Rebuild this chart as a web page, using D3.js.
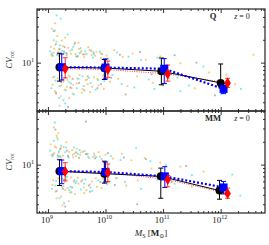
<!DOCTYPE html>
<html>
<head>
<meta charset="utf-8">
<script src="https://cdn.jsdelivr.net/npm/d3@7"></script>
<style>
body { margin: 0; background: #fff; }
svg { display: block; }
text { font-family: "Liberation Serif", "DejaVu Serif", serif; fill: #222; }
</style>
</head>
<body>
<div id="chart"></div>
<script>
// ---------- data (mass as log10 Msun, CV values) ----------
const panelNames = ["Q", "MM"];
const xMajorExp = [9, 10, 11, 12];
const yMajor = [10];

// top panel: Q
const qBlackM = [9.2, 9.98, 10.97, 12.0];
const qBlackCV = [8.7, 8.5, 7.7, 5.4];
const qBlackLo = [5.7, 6.0, 5.1, 4.8];
const qBlackHi = [13.3, 11.0, 11.5, 9.6];
const qBlueM = [9.24, 10.0, 11.02, 12.05];
const qBlueCV = [8.7, 8.6, 8.3, 4.5];
const qBlueLo = [5.9, 6.1, 5.3, 3.9];
const qBlueHi = [13.0, 11.2, 11.3, 5.3];
const qRedM = [9.3, 10.04, 11.08, 12.12];
const qRedCV = [8.3, 8.1, 7.1, 5.4];
const qRedLo = [6.3, 6.4, 5.7, 4.7];
const qRedHi = [11.6, 10.5, 9.3, 6.2];

const qOrange = [[9.05,16.2],[9.08,5.1],[9.1,13.5],[9.12,4.2],[9.15,18.9],[9.17,6.2],[9.2,14.8],[9.22,3.6],[9.25,12.9],[9.27,5.6],[9.3,21.5],[9.33,4.8],[9.35,15.7],[9.38,6.5],[9.4,13.1],[9.43,3.9],[9.46,17.4],[9.5,5.3],[9.52,12.2],[9.55,6.9],[9.58,14.3],[9.6,4.5],[9.63,11.8],[9.66,5.9],[9.7,16.0],[9.73,4.1],[9.76,12.6],[9.8,6.4],[9.84,13.9],[9.88,5.0],[9.92,11.5],[9.96,6.8],[10.02,12.4],[10.08,5.6],[10.15,14.6],[10.22,6.1],[10.3,11.9],[10.38,4.9],[10.47,13.2],[10.55,6.6],[10.7,10.9],[10.82,5.4],[10.95,12.1],[11.1,6.2],[11.3,9.8],[11.55,4.6],[11.8,7.4],[12.1,6.9],[12.25,5.2],[9.07,28],[9.2,2.7],[9.12,33],[12.57,12.7],[9.13,17.1],[9.28,14.1],[9.41,4.6],[9.57,13.6],[9.69,5.2],[9.19,12.2],[9.34,5.9],
  [9.06,12.7],[9.09,6.4],[9.11,15.3],[9.14,3.9],[9.18,13.9],[9.23,5.0],[9.26,16.6],[9.29,4.4],[9.32,12.4],[9.36,6.8],[9.39,14.4],[9.44,5.1],[9.48,13.0],[9.51,6.2],[9.54,15.2],[9.59,4.0],[9.64,12.9],[9.68,6.0],[9.72,14.7],[9.77,4.8],[9.82,12.3],[9.86,6.1],[9.91,13.3],[9.97,4.5],[9.16,22.4],[9.24,19.6],[9.37,3.4],[9.53,18.3]];
const qCyan = [[9.04,14.1],[9.06,4.6],[9.1,19.8],[9.13,5.8],[9.16,12.6],[9.19,3.4],[9.21,16.9],[9.24,6.7],[9.28,13.7],[9.31,4.3],[9.34,23.5],[9.37,5.5],[9.42,14.9],[9.45,3.8],[9.49,12.1],[9.53,6.1],[9.57,15.5],[9.62,4.9],[9.67,13.0],[9.71,6.3],[9.78,11.7],[9.83,4.4],[9.9,14.0],[9.98,5.7],[10.05,11.3],[10.12,6.9],[10.2,13.6],[10.28,5.2],[10.4,12.0],[10.5,4.7],[10.62,10.8],[10.75,6.0],[10.9,11.6],[11.05,5.3],[11.25,6.4],[11.45,5.0],[11.7,8.9],[12.0,3.9],[12.35,4.5],[9.15,42],[9.22,38],[9.3,2.9],[11.3,4.2],[10.85,4.5],
  [9.07,13.2],[9.11,6.5],[9.14,17.6],[9.2,4.9],[9.25,14.3],[9.3,6.2],[9.33,12.8],[9.4,5.3],[9.44,16.1],[9.5,4.6],[9.55,13.3],[9.6,6.6],[9.65,14.1],[9.74,5.4],[9.8,12.9],[9.87,5.9],[9.12,26.5],[9.27,3.2]];
const qGray = [[9.08,12.3],[9.14,4.0],[9.2,15.1],[9.26,6.0],[9.32,13.4],[9.39,4.7],[9.47,18.2],[9.54,5.4],[9.61,12.8],[9.69,6.6],[9.75,14.4],[9.86,4.6],[9.94,13.0],[10.1,6.3],[10.25,12.7],[10.35,3.8],[10.6,13.8],[10.8,7.0],[11.0,5.0],[11.2,12.5],[11.58,10.0],[11.9,3.7],[9.1,26],[9.35,2.6],
  [9.17,13.0],[9.23,5.5],[9.29,16.0],[9.43,6.1],[9.51,12.0],[9.63,4.3],[9.79,13.6],[9.92,5.2]];

// bottom panel: MM
const mBlackM = [9.2, 9.98, 10.96, 11.98];
const mBlackCV = [8.2, 7.6, 7.0, 4.55];
const mBlackLo = [5.3, 5.7, 3.6, 3.5];
const mBlackHi = [11.6, 11.1, 9.0, 6.2];
const mBlueM = [9.24, 10.0, 11.03, 12.05];
const mBlueCV = [8.2, 8.0, 7.0, 5.0];
const mBlueLo = [5.6, 5.9, 5.0, 4.1];
const mBlueHi = [11.5, 10.8, 9.4, 6.0];
const mRedM = [9.3, 10.04, 11.08, 12.12];
const mRedCV = [8.1, 7.85, 6.35, 4.16];
const mRedLo = [6.1, 6.0, 5.1, 3.6];
const mRedHi = [10.6, 10.2, 7.2, 4.9];

const mOrange = [[9.05,18.5],[9.08,5.4],[9.11,14.2],[9.13,4.4],[9.16,22.8],[9.18,6.6],[9.21,15.9],[9.23,3.8],[9.26,13.1],[9.29,5.9],[9.32,19.7],[9.34,4.9],[9.37,14.7],[9.4,6.8],[9.44,12.5],[9.47,4.1],[9.5,16.3],[9.53,5.6],[9.56,13.4],[9.6,6.3],[9.64,15.1],[9.67,4.6],[9.72,12.2],[9.76,6.0],[9.8,14.0],[9.85,5.1],[9.9,12.8],[9.95,6.5],[10.0,13.5],[10.06,5.8],[10.13,12.0],[10.2,6.7],[10.28,13.9],[10.36,5.3],[10.45,11.4],[10.56,6.2],[10.68,12.3],[10.8,8.9],[10.95,10.6],[11.1,6.4],[11.3,9.4],[11.5,5.1],[11.7,8.1],[9.1,31],[9.25,2.9],[9.18,26],[9.14,16.8],[9.3,4.6],[9.46,14.0],[9.62,5.0],[9.22,12.6],
  [9.06,13.4],[9.09,6.2],[9.12,17.3],[9.15,3.6],[9.19,14.4],[9.24,5.1],[9.27,17.1],[9.31,6.4],[9.35,13.2],[9.38,4.3],[9.42,15.5],[9.45,5.9],[9.49,12.9],[9.52,6.7],[9.57,14.5],[9.63,4.2],[9.68,13.7],[9.73,5.5],[9.78,12.6],[9.83,6.6],[9.88,14.6],[9.93,4.9],[9.15,24.1],[9.36,3.3]];
const mCyan = [[9.04,15.3],[9.07,4.8],[9.1,20.6],[9.14,6.1],[9.17,13.3],[9.2,3.6],[9.23,17.8],[9.27,5.2],[9.3,14.6],[9.33,6.9],[9.36,12.4],[9.41,4.3],[9.45,16.8],[9.48,5.7],[9.52,13.9],[9.57,4.7],[9.61,14.8],[9.65,6.4],[9.7,12.7],[9.74,5.0],[9.81,13.2],[9.87,6.2],[9.93,11.9],[10.03,5.5],[10.1,12.9],[10.18,6.6],[10.26,11.5],[10.34,5.9],[10.53,16.7],[10.62,4.8],[10.78,11.1],[10.9,6.3],[11.05,9.9],[11.2,5.6],[11.5,7.3],[12.2,7.4],[12.34,3.9],[9.12,36],[9.28,3.1],[9.19,15.0],[9.39,5.1],
  [9.08,12.9],[9.13,5.3],[9.21,13.0],[9.25,6.5],[9.31,16.9],[9.37,4.6],[9.43,13.5],[9.5,6.0],[9.55,15.6],[9.63,5.6],[9.69,13.9],[9.77,4.5],[9.84,12.6],[9.17,21.5]];
const mGray = [[9.09,13.6],[9.15,4.5],[9.22,16.4],[9.28,6.3],[9.35,12.9],[9.42,5.0],[9.49,14.5],[9.58,6.0],[9.66,13.8],[9.73,4.4],[9.82,12.1],[9.91,5.9],[10.04,14.2],[10.16,5.4],[10.32,12.4],[10.55,3.0],[10.7,11.8],[10.9,6.8],[11.15,5.9],[11.4,9.6],[9.13,29],[9.3,2.8],[9.66,37],
  [9.18,12.7],[9.26,4.8],[9.33,15.3],[9.46,6.2],[9.54,12.3],[9.71,5.3]];

const panels = [
  { name: panelNames[0], top: 9, bottom: 111,
    black: [qBlackM, qBlackCV, qBlackLo, qBlackHi],
    blue: [qBlueM, qBlueCV, qBlueLo, qBlueHi],
    red: [qRedM, qRedCV, qRedLo, qRedHi],
    orange: qOrange, cyan: qCyan, gray: qGray },
  { name: panelNames[1], top: 111, bottom: 213,
    black: [mBlackM, mBlackCV, mBlackLo, mBlackHi],
    blue: [mBlueM, mBlueCV, mBlueLo, mBlueHi],
    red: [mRedM, mRedCV, mRedLo, mRedHi],
    orange: mOrange, cyan: mCyan, gray: mGray }
];

// ---------- drawing ----------
const W = 269, H = 245;
const left = 37, right = 265;

const svg = d3.select("#chart").append("svg")
  .attr("width", W)
  .attr("height", H);

const x = d3.scaleLog().domain([10 ** 8.81, 10 ** 12.77]).range([left, right]);

// minor tick positions for the log axes
const xMinor = [];
for (let n = 8; n <= 12; n++) for (let k = 2; k <= 9; k++) {
  const v = k * 10 ** n;
  if (v > x.domain()[0] && v < x.domain()[1]) xMinor.push(v);
}
const xMajor = xMajorExp.map(e => 10 ** e);

function toRows(s) {
  return s[0].map((m, i) => ({ m: m, cv: s[1][i], lo: s[2][i], hi: s[3][i] }));
}

function drawPanel(p) {
  const y = d3.scaleLog().domain([2.3, 51]).range([p.bottom, p.top]);
  const yMinor = [];
  for (let n = 0; n <= 1; n++) for (let k = 2; k <= 9; k++) {
    const v = k * 10 ** n;
    if (v > 2.3 && v < 51 && v !== 10) yMinor.push(v);
  }

  const g = svg.append("g");
  const clip = "clip" + p.name;
  g.append("clipPath").attr("id", clip).append("rect")
    .attr("x", left).attr("y", p.top).attr("width", right - left).attr("height", p.bottom - p.top);

  const plot = g.append("g").attr("clip-path", `url(#${clip})`);

  // scatter of individual galaxies
  const dots = [[p.orange, "#ffb347"], [p.cyan, "#3ee6ee"], [p.gray, "#9a9a9a"]];
  dots.forEach(([arr, col]) => {
    plot.selectAll(null).data(arr).enter().append("rect")
      .attr("x", d => x(10 ** d[0]) - 0.9)
      .attr("y", d => y(d[1]) - 0.9)
      .attr("width", 1.8)
      .attr("height", 1.8)
      .attr("fill", col)
      .attr("opacity", 0.75);
  });

  const black = toRows(p.black), blue = toRows(p.blue), red = toRows(p.red);
  const line = d3.line().x(d => x(10 ** d.m)).y(d => y(d.cv));

  plot.append("path").datum(red).attr("d", line)
    .attr("fill", "none").attr("stroke", "#ff4040").attr("stroke-width", 1).attr("stroke-dasharray", "1,1.3");
  plot.append("path").datum(black).attr("d", line)
    .attr("fill", "none").attr("stroke", "#000").attr("stroke-width", 1);
  plot.append("path").datum(blue).attr("d", line)
    .attr("fill", "none").attr("stroke", "#0000ff").attr("stroke-width", 2.2).attr("stroke-dasharray", "2,2");

  // error bars
  function errBars(rows, col, w) {
    const eb = plot.append("g").attr("stroke", col).attr("stroke-width", w);
    rows.forEach(d => {
      const cx = x(10 ** d.m);
      eb.append("line").attr("x1", cx).attr("x2", cx).attr("y1", y(d.lo)).attr("y2", y(d.hi));
      eb.append("line").attr("x1", cx - 2.5).attr("x2", cx + 2.5).attr("y1", y(d.lo)).attr("y2", y(d.lo));
      eb.append("line").attr("x1", cx - 2.5).attr("x2", cx + 2.5).attr("y1", y(d.hi)).attr("y2", y(d.hi));
    });
  }
  errBars(black, "#000", 1);
  errBars(blue, "#0000ff", 1);
  errBars(red, "#ff0000", 0.8);

  // markers
  plot.selectAll(null).data(black).enter().append("circle")
    .attr("cx", d => x(10 ** d.m)).attr("cy", d => y(d.cv)).attr("r", 4).attr("fill", "#000");
  plot.selectAll(null).data(blue).enter().append("rect")
    .attr("x", d => x(10 ** d.m) - 4).attr("y", d => y(d.cv) - 4)
    .attr("width", 8).attr("height", 8).attr("fill", "#0000ff");
  plot.selectAll(null).data(red).enter().append("path")
    .attr("transform", d => `translate(${x(10 ** d.m)},${y(d.cv)})`)
    .attr("d", "M0,-5.5L3.3,0L0,5.5L-3.3,0Z").attr("fill", "#ff0000");

  // frame and inward ticks
  const axes = [
    [d3.axisBottom(x), `translate(0,${p.bottom})`, xMajor, xMinor],
    [d3.axisTop(x), `translate(0,${p.top})`, xMajor, xMinor],
    [d3.axisLeft(y), `translate(${left},0)`, yMajor, yMinor],
    [d3.axisRight(y), `translate(${right},0)`, yMajor, yMinor]
  ];
  axes.forEach(([ax, tr, maj, min]) => {
    g.append("g").attr("transform", tr)
      .call(ax.tickValues(min).tickSize(-2).tickFormat(""))
      .call(s => s.select(".domain").remove())
      .selectAll("line").attr("stroke", "#333");
    g.append("g").attr("transform", tr)
      .call(ax.tickValues(maj).tickSize(-4).tickFormat(""))
      .call(s => s.select(".domain").remove())
      .selectAll("line").attr("stroke", "#333");
  });
  g.append("rect")
    .attr("x", left).attr("y", p.top).attr("width", right - left).attr("height", p.bottom - p.top)
    .attr("fill", "none").attr("stroke", "#222").attr("stroke-width", 1.2);

  // y tick label 10^1
  yMajor.forEach(v => {
    const t = g.append("text").attr("x", left - 3).attr("y", y(v) + 3.5)
      .attr("text-anchor", "end").attr("font-size", 9);
    t.append("tspan").text("10");
    t.append("tspan").attr("font-size", 6).attr("dy", -4).text("1");
  });

  // y label
  const yl = g.append("text")
    .attr("transform", `translate(12,${(p.top + p.bottom) / 2}) rotate(-90)`)
    .attr("text-anchor", "middle").attr("font-size", 8.5);
  yl.append("tspan").attr("font-style", "italic").text("CV");
  yl.append("tspan").attr("font-size", 5.5).attr("dy", 2).text("rot");

  // panel label
  g.append("text").attr("x", 213).attr("y", p.top + 10)
    .attr("text-anchor", "middle").attr("font-size", 8.5).attr("font-weight", "bold").text(p.name);
  const z = g.append("text").attr("x", 242).attr("y", p.top + 10)
    .attr("text-anchor", "middle").attr("font-size", 8);
  z.append("tspan").attr("font-style", "italic").text("z");
  z.append("tspan").text(" = 0");
}

panels.forEach(drawPanel);

// x tick labels
xMajorExp.forEach(e => {
  const t = svg.append("text").attr("x", x(10 ** e) - 1).attr("y", 223)
    .attr("text-anchor", "middle").attr("font-size", 9);
  t.append("tspan").text("10");
  t.append("tspan").attr("font-size", 6).attr("dy", -4).text(e);
});

// x label
const xl = svg.append("text").attr("x", (left + right) / 2).attr("y", 236)
  .attr("text-anchor", "middle").attr("font-size", 9);
xl.append("tspan").attr("font-style", "italic").text("M");
xl.append("tspan").attr("font-size", 6).attr("dy", 2).text("S");
xl.append("tspan").attr("dy", -2).text(" [");
xl.append("tspan").attr("font-weight", "bold").text("M");
xl.append("tspan").attr("font-size", 6).attr("dy", 2).text("⊙");
xl.append("tspan").attr("dy", -2).text("]");
</script>
</body>
</html>
